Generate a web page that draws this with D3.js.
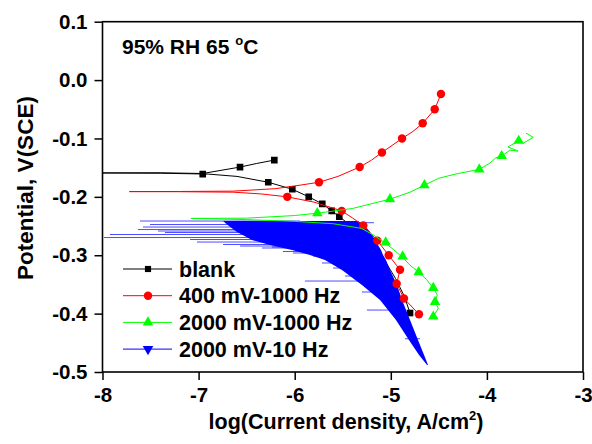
<!DOCTYPE html>
<html>
<head>
<meta charset="utf-8">
<script src="https://cdn.jsdelivr.net/npm/d3@7"></script>
<style>
  body { margin: 0; background: #fff; }
  svg { display: block; font-family: "Liberation Sans", Arial, sans-serif; font-weight: bold; }
</style>
</head>
<body>
<div id="chart"></div>
<script>
// -- data: [log i, E] --
const seriesNames = ["blank", "400 mV-1000 Hz", "2000 mV-1000 Hz", "2000 mV-10 Hz"];

const blankLine = [
  [-4.80, -0.399], [-4.86, -0.370], [-4.95, -0.340], [-5.06, -0.310], [-5.20, -0.280],
  [-5.37, -0.255], [-5.536, -0.234], [-5.615, -0.224], [-5.713, -0.212], [-5.854, -0.200],
  [-6.025, -0.187], [-6.275, -0.175], [-6.60, -0.165], [-6.90, -0.161], [-7.40, -0.1595],
  [-8.30, -0.159], [-7.40, -0.1588], [-6.957, -0.160], [-6.569, -0.149], [-6.40, -0.143],
  [-6.212, -0.137]
];
const blankMarks = [
  [-6.212, -0.137], [-6.569, -0.149], [-6.957, -0.161], [-6.275, -0.175], [-6.025, -0.187],
  [-5.854, -0.200], [-5.713, -0.212], [-5.615, -0.224], [-5.536, -0.234], [-4.80, -0.399]
];

const redLine = [
  [-4.707, -0.401], [-4.863, -0.374], [-4.939, -0.349], [-4.904, -0.325], [-5.022, -0.300],
  [-5.140, -0.275], [-5.286, -0.249], [-5.40, -0.236], [-5.511, -0.224], [-5.80, -0.209],
  [-6.077, -0.200], [-6.35, -0.195], [-6.64, -0.192], [-7.20, -0.1912], [-7.72, -0.191],
  [-7.20, -0.1908], [-6.64, -0.1902], [-6.20, -0.186], [-5.945, -0.180], [-5.747, -0.175],
  [-5.55, -0.165], [-5.324, -0.149], [-5.20, -0.137], [-5.092, -0.124], [-4.883, -0.100],
  [-4.77, -0.088], [-4.668, -0.074], [-4.543, -0.050], [-4.478, -0.024]
];
const redMarks = [
  [-4.478, -0.024], [-4.543, -0.050], [-4.668, -0.074], [-4.883, -0.100], [-5.092, -0.124],
  [-5.324, -0.149], [-5.747, -0.175], [-6.077, -0.200], [-5.511, -0.224], [-5.286, -0.249],
  [-5.140, -0.275], [-5.022, -0.300], [-4.904, -0.325], [-4.939, -0.349], [-4.863, -0.374],
  [-4.707, -0.401]
];

const greenLine = [
  [-4.558, -0.405], [-4.506, -0.391], [-4.540, -0.380], [-4.516, -0.368], [-4.558, -0.356],
  [-4.626, -0.342], [-4.710, -0.329], [-4.800, -0.317], [-4.876, -0.304], [-4.967, -0.291],
  [-5.050, -0.280], [-5.165, -0.267], [-5.303, -0.254], [-5.60, -0.246], [-6.00, -0.242],
  [-6.50, -0.239], [-7.08, -0.237], [-6.50, -0.2365], [-6.00, -0.232], [-5.765, -0.228],
  [-5.40, -0.220], [-5.009, -0.204], [-4.80, -0.192], [-4.65, -0.180], [-4.50, -0.168],
  [-4.30, -0.160], [-4.079, -0.153], [-3.968, -0.142], [-3.905, -0.133], [-3.846, -0.130],
  [-3.760, -0.120], [-3.676, -0.1215], [-3.781, -0.1146], [-3.669, -0.104], [-3.621, -0.108],
  [-3.517, -0.098], [-3.593, -0.091]
];
const greenMarks = [
  [-3.669, -0.104], [-3.846, -0.130], [-4.079, -0.153], [-4.650, -0.180], [-5.009, -0.204],
  [-5.765, -0.228], [-5.053, -0.278], [-4.877, -0.302], [-4.710, -0.329], [-4.558, -0.356],
  [-4.540, -0.380], [-4.558, -0.405]
];

// blue trace is a dense noisy sweep: its solid body as [E, left log i, right log i]
const blueBand = [
  [-0.2414, -6.746, -5.341], [-0.2500, -6.684, -5.268], [-0.2603, -6.600, -5.216],
  [-0.2740, -6.444, -5.164], [-0.2826, -6.257, -5.133], [-0.2911, -6.028, -5.102],
  [-0.2997, -5.841, -5.081], [-0.3083, -5.685, -5.050], [-0.3254, -5.508, -5.008],
  [-0.3511, -5.300, -4.935], [-0.3768, -5.112, -4.883], [-0.4110, -4.946, -4.800],
  [-0.4453, -4.811, -4.717], [-0.4710, -4.706, -4.654], [-0.4881, -4.623, -4.613]
];
// and the single excursions that stick out of it
const blueSpikes = [
  [-0.2414, -7.610, -5.945], [-0.2443, -6.725, -5.175], [-0.2474, -7.506, -5.945],
  [-0.2517, -7.579, -5.945], [-0.2560, -7.631, -5.945], [-0.2585, -7.422, -5.945],
  [-0.2611, -7.350, -5.945], [-0.2645, -7.922, -5.945], [-0.2697, -7.984, -5.945],
  [-0.2731, -7.089, -5.945], [-0.2774, -7.017, -5.945], [-0.2816, -6.746, -5.945],
  [-0.2842, -6.569, -5.841], [-0.2859, -6.236, -5.800], [-0.2876, -6.340, -5.737],
  [-0.2936, -6.122, -5.633], [-0.2962, -6.018, -5.600], [-0.3013, -5.810, -5.500],
  [-0.3133, -5.716, -5.400], [-0.3219, -5.601, -5.300], [-0.3356, -5.477, -5.250],
  [-0.3442, -5.893, -5.216], [-0.3630, -5.300, -5.100], [-0.3939, -5.248, -4.956],
  [-0.4430, -4.852, -4.696]
];

const xTicks = [-8, -7, -6, -5, -4, -3];
const yTicks = [0.1, 0.0, -0.1, -0.2, -0.3, -0.4, -0.5];

// -- layout --
const width = 592, height = 444;
const x = d3.scaleLinear().domain([-8, -3]).range([102.5, 583]);
const y = d3.scaleLinear().domain([0.1, -0.5]).range([21.7, 372]);

const svg = d3.select("#chart").append("svg")
  .attr("width", width)
  .attr("height", height);

svg.append("clipPath").attr("id", "plot")
  .append("rect")
  .attr("x", x(-8)).attr("y", y(0.1))
  .attr("width", x(-3) - x(-8)).attr("height", y(-0.5) - y(0.1));

const plot = svg.append("g").attr("clip-path", "url(#plot)");
const line = d3.line().x(d => x(d[0])).y(d => y(d[1]));

function drawLine(data, color) {
  plot.append("path")
    .datum(data)
    .attr("fill", "none")
    .attr("stroke", color)
    .attr("stroke-width", 1)
    .attr("d", line);
}

function drawMarks(data, color, type, size, rot) {
  plot.append("g")
    .selectAll("path")
    .data(data)
    .join("path")
    .attr("transform", d => `translate(${x(d[0])},${y(d[1])}) rotate(${rot})`)
    .attr("d", d3.symbol().type(type).size(size))
    .attr("fill", color);
}

// blank first, the blue sweep covers it
drawLine(blankLine, "#000");
drawMarks(blankMarks, "#000", d3.symbolSquare, 44, 0);

// blue body
plot.append("path")
  .datum(blueBand)
  .attr("fill", "#0000ff")
  .attr("d", d3.area().y(d => y(d[0])).x0(d => x(d[1])).x1(d => x(d[2])));

plot.append("g")
  .attr("stroke", "#0000ff")
  .attr("stroke-width", 1)
  .attr("stroke-opacity", 0.7)
  .selectAll("line")
  .data(blueSpikes)
  .join("line")
  .attr("x1", d => x(d[1])).attr("x2", d => x(d[2]))
  .attr("y1", d => y(d[0])).attr("y2", d => y(d[0]));

drawLine(redLine, "#ff0000");
drawMarks(redMarks, "#ff0000", d3.symbolCircle, 56, 0);
drawLine(greenLine, "#00ff00");
drawMarks(greenMarks, "#00ff00", d3.symbolTriangle, 48, 0);

// -- axes --
const axisFont = "20.5px";

const xAxis = svg.append("g").attr("transform", `translate(0,${y(-0.5)})`);
xAxis.call(d3.axisBottom(x).tickValues(d3.range(-8, -2.99, 0.2)).tickSize(4).tickFormat(""));
xAxis.call(d3.axisBottom(x).tickValues(xTicks).tickSize(8).tickPadding(7).tickFormat(d => String(d)));

const yAxis = svg.append("g").attr("transform", `translate(${x(-8)},0)`);
yAxis.call(d3.axisLeft(y).tickValues(d3.range(0, 31).map(i => 0.1 - i * 0.02)).tickSize(4).tickFormat(""));
yAxis.call(d3.axisLeft(y).tickValues(yTicks).tickSize(8).tickPadding(7).tickFormat(d => d.toFixed(1)));

svg.selectAll(".domain").remove();
svg.selectAll(".tick line").attr("stroke", "#000").attr("stroke-width", 1.5);
svg.selectAll(".tick text")
  .attr("fill", "#000")
  .style("font-size", axisFont)
  .style("font-family", "'Liberation Sans', Arial, sans-serif")
  .style("font-weight", "bold");

// frame
svg.append("rect")
  .attr("x", x(-8)).attr("y", y(0.1))
  .attr("width", x(-3) - x(-8)).attr("height", y(-0.5) - y(0.1))
  .attr("fill", "none")
  .attr("stroke", "#000")
  .attr("stroke-width", 1.6);

// axis titles
const xt = svg.append("text")
  .attr("x", 346).attr("y", 429)
  .attr("text-anchor", "middle")
  .attr("font-size", "21.5px");
xt.append("tspan").text("log(Current density, A/cm");
xt.append("tspan").attr("font-size", "13px").attr("dy", "-9").text("2");
xt.append("tspan").attr("dy", "9").text(")");

svg.append("text")
  .attr("transform", "translate(33,188) rotate(-90)")
  .attr("text-anchor", "middle")
  .attr("font-size", "22.5px")
  .text("Potential, V(SCE)");

// condition note
const note = svg.append("text")
  .attr("x", 122).attr("y", 54)
  .attr("font-size", "21px");
note.append("tspan").text("95% RH 65 ");
note.append("tspan").attr("font-size", "13px").attr("dy", "-9").text("o");
note.append("tspan").attr("dy", "9").text("C");

// -- legend --
const legendColors = ["#000", "#ff0000", "#00ff00", "#0000ff"];
const legendShapes = [d3.symbolSquare, d3.symbolCircle, d3.symbolTriangle, d3.symbolTriangle];
const legendSizes = [38, 56, 48, 48];

const legend = svg.append("g");
seriesNames.forEach((name, i) => {
  const row = legend.append("g").attr("transform", `translate(0,${269 + i * 26.7})`);
  row.append("line")
    .attr("x1", 123).attr("x2", 172)
    .attr("stroke", legendColors[i]).attr("stroke-width", 1);
  row.append("path")
    .attr("transform", `translate(148,0) rotate(${i === 3 ? 180 : 0})`)
    .attr("d", d3.symbol().type(legendShapes[i]).size(legendSizes[i]))
    .attr("fill", legendColors[i]);
  row.append("text")
    .attr("x", 179).attr("dy", "0.36em")
    .attr("font-size", "21.5px")
    .text(name);
});
</script>
</body>
</html>
